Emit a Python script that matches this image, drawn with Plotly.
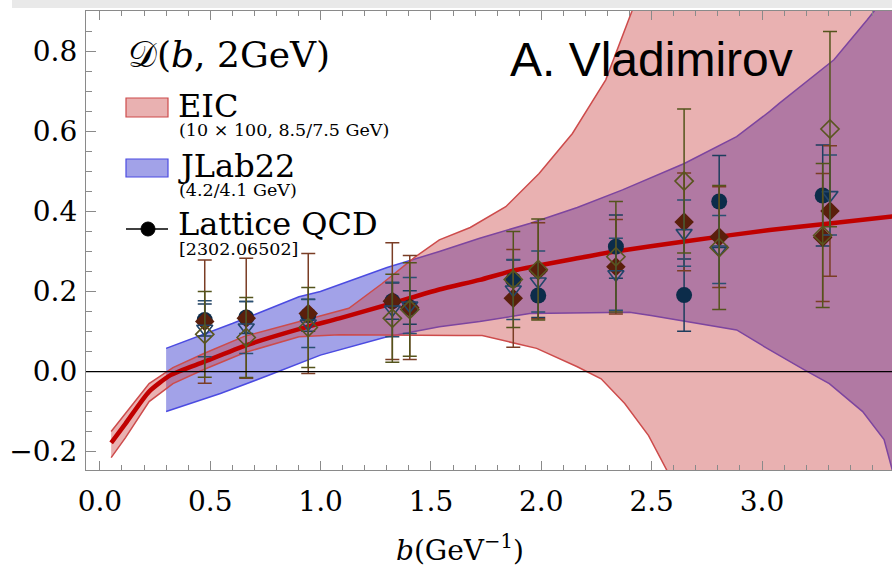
import plotly.graph_objects as go

# ---------------- data ----------------
curve_b = [0.051, 0.116, 0.223, 0.320, 0.471, 0.665, 0.902, 1.085, 1.322, 1.538, 1.721, 1.872, 2.163, 2.335, 2.648, 3.035, 3.305, 3.596]
curve_D = [-0.178, -0.13, -0.05, -0.009, 0.024, 0.066, 0.106, 0.133, 0.17, 0.205, 0.229, 0.252, 0.283, 0.300, 0.325, 0.354, 0.37, 0.388]

eic_up_b = [0.051, 0.116, 0.223, 0.331, 0.471, 0.654, 0.902, 1.128, 1.279, 1.430, 1.538, 1.678, 1.839, 1.990, 2.141, 2.292, 2.410, 2.540, 3.671]
eic_up_D = [-0.15, -0.105, -0.03, 0.01, 0.045, 0.088, 0.125, 0.158, 0.22, 0.287, 0.329, 0.36, 0.412, 0.495, 0.595, 0.729, 0.9, 1.15, 2.5]
eic_lo_b = [0.051, 0.116, 0.223, 0.331, 0.471, 0.654, 0.902, 1.085, 1.624, 1.732, 1.839, 1.979, 2.163, 2.271, 2.378, 2.486, 2.572, 2.648, 3.671]
eic_lo_D = [-0.215, -0.165, -0.075, -0.03, 0.005, 0.047, 0.087, 0.092, 0.09, 0.09, 0.077, 0.058, 0.012, -0.018, -0.08, -0.16, -0.25, -0.4, -2.0]

jlab_up_b = [0.3, 0.600, 0.902, 0.999, 1.301, 1.538, 1.721, 1.947, 2.163, 2.368, 2.648, 2.885, 3.035, 3.078, 3.326, 3.477, 3.607]
jlab_up_D = [0.058, 0.12, 0.187, 0.2, 0.26, 0.3, 0.333, 0.37, 0.41, 0.454, 0.52, 0.587, 0.65, 0.67, 0.779, 0.879, 0.97]
jlab_lo_b = [0.3, 0.546, 0.762, 0.902, 0.999, 1.301, 1.538, 1.721, 1.947, 2.400, 2.497, 2.885, 3.035, 3.186, 3.305, 3.456, 3.553, 3.607]
jlab_lo_D = [-0.1, -0.055, -0.01, 0.02, 0.041, 0.087, 0.112, 0.125, 0.145, 0.148, 0.14, 0.104, 0.054, 0.006, -0.03, -0.1, -0.17, -0.28]

lat_b = [0.475, 0.663, 0.944, 1.325, 1.404, 1.873, 1.986, 2.338, 2.647, 2.806, 3.275, 3.308]
circ_D = [0.129, 0.135, 0.141, 0.176, 0.160, 0.229, 0.190, 0.312, 0.191, 0.425, 0.440, None]
circ_E = [0.04, 0.04, 0.04, 0.045, 0.042, 0.05, 0.055, 0.079, 0.09, 0.115, 0.126, None]
fdia_D = [0.125, 0.133, 0.145, 0.176, 0.160, 0.183, 0.252, 0.262, 0.374, 0.336, 0.335, 0.401]
fdia_E = [0.154, 0.15, 0.15, 0.146, 0.13, 0.122, 0.12, 0.118, 0.122, 0.126, 0.16, 0.163]
odia_D = [0.093, 0.085, 0.110, 0.133, 0.155, 0.230, 0.255, 0.287, 0.476, 0.310, 0.340, 0.606]
odia_E = [0.107, 0.10, 0.10, 0.11, 0.117, 0.12, 0.126, 0.138, 0.18, 0.155, 0.18, 0.244]
tri_D = [0.107, 0.110, 0.120, 0.155, 0.165, 0.205, 0.225, 0.243, 0.346, 0.305, None, 0.441]
tri_E = [0.07, 0.065, 0.06, 0.068, 0.07, 0.075, 0.076, 0.09, 0.083, 0.085, None, 0.1]

x_tickvals = [0.0, 0.5, 1.0, 1.5, 2.0, 2.5, 3.0]
x_ticktext = ["0.0", "0.5", "1.0", "1.5", "2.0", "2.5", "3.0"]
y_tickvals = [-0.2, 0.0, 0.2, 0.4, 0.6, 0.8]
y_ticktext = ["\u22120.2", "0.0", "0.2", "0.4", "0.6", "0.8"]

# ---------------- styling ----------------
W, H = 892, 568
ML, MR, MT, MB = 86, 0, 11, 98
PW, PH = W - ML - MR, H - MT - MB
SERIF = "DejaVu Serif"
RED_FILL = "rgba(200,60,60,0.40)"
RED_EDGE = "rgb(205,75,75)"
BLUE_FILL = "rgba(70,70,210,0.50)"
BLUE_EDGE = "rgb(75,75,225)"


def px(x):
    return (x - ML) / PW


def py(y):
    return (H - MB - y) / PH


fig = go.Figure()

# JLab22 band (drawn first)
fig.add_trace(go.Scatter(
    x=jlab_up_b + jlab_lo_b[::-1], y=jlab_up_D + jlab_lo_D[::-1],
    fill="toself", fillcolor=BLUE_FILL, mode="lines",
    line=dict(color=BLUE_EDGE, width=1.5), showlegend=False, hoverinfo="skip"))
# EIC band
fig.add_trace(go.Scatter(
    x=eic_up_b + eic_lo_b[::-1], y=eic_up_D + eic_lo_D[::-1],
    fill="toself", fillcolor=RED_FILL, mode="lines",
    line=dict(color=RED_EDGE, width=1.5), showlegend=False, hoverinfo="skip"))
# central curve
fig.add_trace(go.Scatter(
    x=curve_b, y=curve_D, mode="lines",
    line=dict(color="#c00000", width=4.5, shape="spline", smoothing=0.6),
    showlegend=False, hoverinfo="skip"))


def lattice(yv, ev, symbol, mcolor, ecolor, size, open_=False):
    marker = dict(symbol=symbol, size=size, color=mcolor)
    if open_:
        marker["line"] = dict(color=mcolor, width=1.6)
    fig.add_trace(go.Scatter(
        x=lat_b, y=yv, mode="markers", marker=marker,
        error_y=dict(type="data", array=ev, visible=True, color=ecolor,
                     thickness=1.5, width=7),
        showlegend=False, hoverinfo="skip"))


lattice(circ_D, circ_E, "circle", "#0c2c4a", "#1d3d5d", 16)
lattice(fdia_D, fdia_E, "diamond", "#5a1f0c", "#7a3d25", 15)
lattice(tri_D, tri_E, "triangle-down-open", "#22456a", "#2a4f72", 14, True)
lattice(odia_D, odia_E, "diamond-open", "#5a5520", "#54541c", 14, True)

# zero line
shapes = [dict(type="line", xref="paper", x0=0, x1=1, yref="y", y0=0, y1=0,
               line=dict(color="black", width=1.2), layer="above")]
# light grey strip above the frame (screenshot edge)
shapes.append(dict(type="rect", xref="paper", yref="paper",
                   x0=px(12), x1=px(892), y0=py(8), y1=py(0),
                   fillcolor="#e9e9e9", line=dict(width=0), layer="below"))
# legend swatches
shapes.append(dict(type="rect", xref="paper", yref="paper",
                   x0=px(126), x1=px(168), y0=py(117), y1=py(98),
                   fillcolor=RED_FILL, line=dict(color=RED_EDGE, width=1.2)))
shapes.append(dict(type="rect", xref="paper", yref="paper",
                   x0=px(126), x1=px(168), y0=py(177), y1=py(159),
                   fillcolor=BLUE_FILL, line=dict(color=BLUE_EDGE, width=1.2)))
shapes.append(dict(type="line", xref="paper", yref="paper",
                   x0=px(126), x1=px(168), y0=py(229), y1=py(229),
                   line=dict(color="black", width=1.5)))
shapes.append(dict(type="circle", xref="paper", yref="paper",
                   x0=px(141), x1=px(155), y0=py(236), y1=py(222),
                   fillcolor="black", line=dict(color="black", width=1)))

ann = []


def text(x, y, s, size, family=SERIF, anchor="left"):
    ann.append(dict(x=px(x), y=py(y), xref="paper", yref="paper", text=s,
                    showarrow=False, xanchor=anchor, yanchor="middle",
                    font=dict(family=family, size=size, color="black")))


text(126, 54, "\U0001D49F(<i>b</i>, 2GeV)", 36)
text(176, 106, "EIC", 32)
text(177, 130, "(10 \u00d7 100, 8.5/7.5 GeV)", 17.5)
text(176, 166, "JLab22", 32)
text(177, 190, "(4.2/4.1 GeV)", 17.5)
text(176, 224, "Lattice QCD", 32)
text(177, 249, "[2302.06502]", 17.5)
text(508, 60, "A. Vladimirov", 48, family="Liberation Sans")
text(460, 548, "<i>b</i>(GeV<sup>\u22121</sup>)", 28, anchor="center")

axis_common = dict(showline=True, linecolor="#8a8a8a", linewidth=1.2,
                   ticks="inside", tickcolor="#8a8a8a", showgrid=False,
                   zeroline=False, tickfont=dict(family=SERIF, size=28, color="black"))

fig.update_layout(
    width=W, height=H, margin=dict(l=ML, r=MR, t=MT, b=MB),
    plot_bgcolor="white", paper_bgcolor="white",
    showlegend=False, shapes=shapes, annotations=ann,
    xaxis=dict(range=[-0.063, 3.589], tickvals=x_tickvals, ticktext=x_ticktext,
               ticklen=9, mirror="ticks", ticklabelstandoff=6,
               minor=dict(dtick=0.1, tick0=0, ticks="inside", ticklen=5, tickcolor="#8a8a8a"),
               **axis_common),
    yaxis=dict(range=[-0.246, 0.901], tickvals=y_tickvals, ticktext=y_ticktext,
               ticklen=10, mirror=False, ticklabelstandoff=2,
               minor=dict(dtick=0.05, tick0=0, ticks="inside", ticklen=6, tickcolor="#8a8a8a"),
               **axis_common),
)

fig.write_html("out.html")
